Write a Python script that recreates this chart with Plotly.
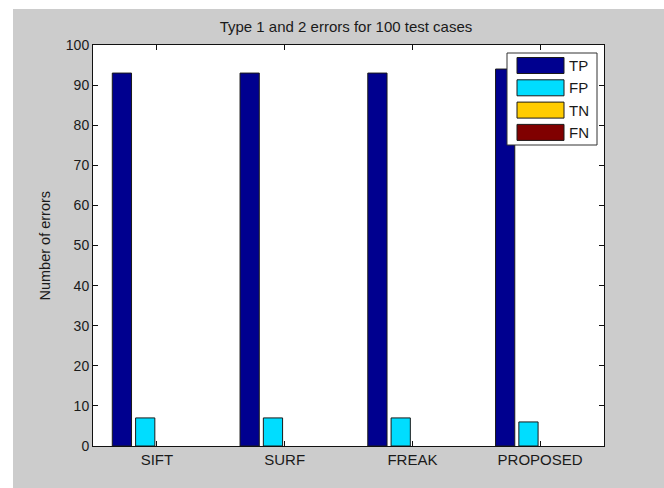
import plotly.graph_objects as go

# ---- data ----
categories = ["SIFT", "SURF", "FREAK", "PROPOSED"]
series_names = ["TP", "FP", "TN", "FN"]
tp_values = [93, 93, 93, 94]
fp_values = [7, 7, 7, 6]
tn_values = [0, 0, 0, 0]
fn_values = [0, 0, 0, 0]
y_ticks = [0, 10, 20, 30, 40, 50, 60, 70, 80, 90, 100]

colors = ["#00008F", "#00DDFF", "#FFCC00", "#800000"]
values = [tp_values, fp_values, tn_values, fn_values]

W, H = 664, 488
L, R, T, B = 93, 60, 45, 42
PW, PH = W - L - R, H - T - B

def px(x):
    return (x - L) / PW

def py(y):
    return (H - B - y) / PH

FONT = "Liberation Sans, Arial, sans-serif"
TXT = "#1a1a1a"

fig = go.Figure()
for name, vals, col in zip(series_names, values, colors):
    fig.add_trace(go.Bar(
        x=categories, y=vals, name=name,
        marker=dict(color=col,
                    line=dict(color="#1a1a1a",
                              width=[1 if v > 0 else 0 for v in vals])),
        showlegend=False,
    ))

shapes = []
annotations = []

# white strips outside the grey figure area (as in the reference screenshot)
shapes.append(dict(type="rect", xref="paper", yref="paper", layer="below",
                   x0=px(0), x1=px(13), y0=py(H), y1=py(0),
                   fillcolor="white", line=dict(width=0)))
shapes.append(dict(type="rect", xref="paper", yref="paper", layer="below",
                   x0=px(0), x1=px(W), y0=py(9), y1=py(0),
                   fillcolor="white", line=dict(width=0)))

# custom MATLAB-style legend
shapes.append(dict(type="rect", xref="paper", yref="paper", layer="above",
                   x0=px(507), x1=px(597), y0=py(145), y1=py(53),
                   fillcolor="white", line=dict(color="#333333", width=1)))
for i, (name, col) in enumerate(zip(series_names, colors)):
    yc = 65.5 + i * 22.3
    shapes.append(dict(type="rect", xref="paper", yref="paper", layer="above",
                       x0=px(517), x1=px(564), y0=py(yc + 8), y1=py(yc - 8),
                       fillcolor=col, line=dict(color="#1a1a1a", width=1)))
    annotations.append(dict(xref="paper", yref="paper", x=px(567), y=py(yc),
                            text=name, showarrow=False, xanchor="left",
                            yanchor="middle",
                            font=dict(family=FONT, size=15, color=TXT)))

# y-axis title
annotations.append(dict(xref="paper", yref="paper", x=px(44), y=0.5,
                        text="Number of errors", showarrow=False,
                        textangle=-90, xanchor="center", yanchor="middle",
                        font=dict(family=FONT, size=14.5, color=TXT)))

fig.update_layout(
    width=W, height=H,
    margin=dict(l=L, r=R, t=T, b=B, pad=0),
    paper_bgcolor="#CCCCCC",
    plot_bgcolor="white",
    barmode="group",
    bargap=0.27,
    bargroupgap=0.175,
    title=dict(text="Type 1 and 2 errors for 100 test cases",
               x=px(346), xref="paper", xanchor="center",
               y=1 - 27 / H, yanchor="middle",
               font=dict(family=FONT, size=15, color=TXT)),
    font=dict(family=FONT, size=15, color=TXT),
    shapes=shapes,
    annotations=annotations,
)
fig.update_xaxes(
    showline=True, linecolor="#111111", linewidth=1, mirror="allticks",
    ticks="inside", ticklen=5, tickcolor="#111111",
    tickfont=dict(family=FONT, size=15, color=TXT),
    showgrid=False, zeroline=False,
)
fig.update_yaxes(
    range=[0, 100], tickvals=y_ticks,
    showline=True, linecolor="#111111", linewidth=1, mirror="allticks",
    ticks="inside", ticklen=5, tickcolor="#111111",
    tickfont=dict(family=FONT, size=14, color=TXT),
    showgrid=False, zeroline=False,
)

fig.write_html("out.html",
               config={"displayModeBar": False},
               post_script="document.body.style.margin='0';document.body.style.padding='0';document.body.style.overflow='hidden';")
